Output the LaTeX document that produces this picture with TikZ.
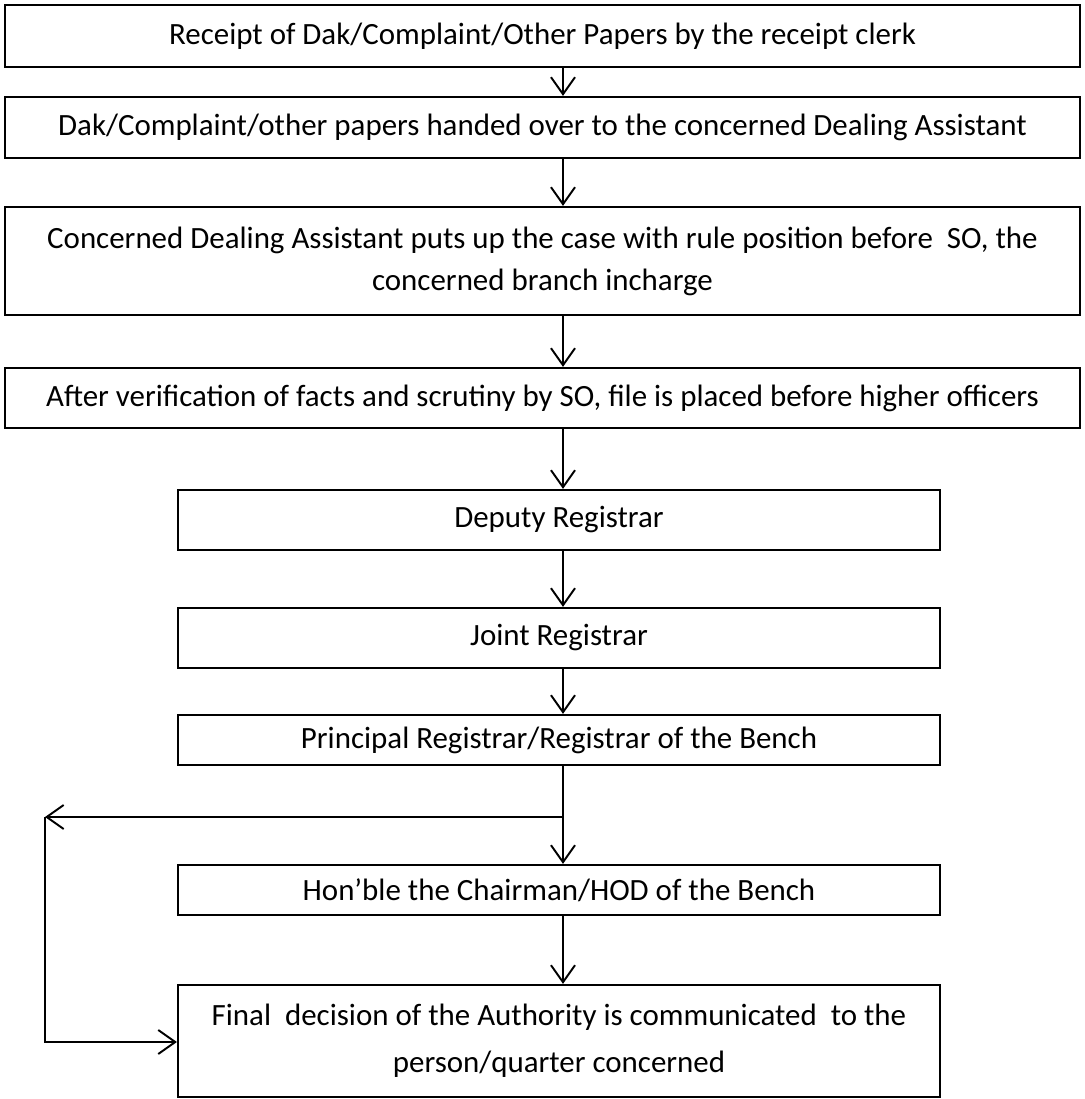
\documentclass[tikz,border=0pt]{standalone}
\usepackage{fontspec}
\setmainfont{Carlito}
\usetikzlibrary{arrows.meta, positioning, calc}

\begin{document}
\begin{tikzpicture}[
    x=0.02cm, y=-0.02cm,
    stage/.style={rectangle, draw, line width=1.3pt, align=center, inner sep=0pt, font=\fontsize{17.6}{24}\selectfont},
    wide/.style={stage, minimum width=21.5cm},
    narrow/.style={stage, minimum width=15.24cm},
    arrow/.style={-{Straight Barb[length=3.4mm, width=4.8mm, line width=1.1pt]}, line width=1.1pt}
]
    \useasboundingbox (0,0) rectangle (1085,1099);

    % Upper stages (full width)
    \node[wide, minimum height=1.24cm] (receipt) at (542.5, 36) {Receipt of Dak/Complaint/Other Papers by the receipt clerk};
    \node[wide, minimum height=1.22cm] (handover) at (542.5, 127.5) {Dak/Complaint/other papers handed over to the concerned Dealing Assistant};
    \node[wide, minimum height=2.16cm] (dealing) at (542.5, 261) {Concerned Dealing Assistant puts up the case with rule position before~ SO, the\\concerned branch incharge};
    \node[wide, minimum height=1.2cm] (scrutiny) at (542.5, 398) {After verification of facts and scrutiny by SO, file is placed before higher officers};

    % Officers (narrower)
    \node[narrow, minimum height=1.2cm] (deputy) at (559, 520) {Deputy Registrar};
    \node[narrow, minimum height=1.2cm] (joint) at (559, 638) {Joint Registrar};
    \node[narrow, minimum height=1.0cm] (principal) at (559, 740) {Principal Registrar/Registrar of the Bench};
    \node[narrow, minimum height=1.0cm] (chairman) at (559, 890) {Hon'ble the Chairman/HOD of the Bench};
    \node[narrow, minimum height=2.24cm, font=\fontsize{17.6}{27}\selectfont] (final) at (559, 1041) {Final~ decision of the Authority is communicated~ to the\\person/quarter concerned};

    % Flow line
    \coordinate (axis) at (563, 0);
    \draw[arrow] (receipt.south -| axis) -- (handover.north -| axis);
    \draw[arrow] (handover.south -| axis) -- (dealing.north -| axis);
    \draw[arrow] (dealing.south -| axis) -- (scrutiny.north -| axis);
    \draw[arrow] (scrutiny.south -| axis) -- (deputy.north -| axis);
    \draw[arrow] (deputy.south -| axis) -- (joint.north -| axis);
    \draw[arrow] (joint.south -| axis) -- (principal.north -| axis);
    \draw[arrow] (principal.south -| axis) -- (chairman.north -| axis);
    \draw[arrow] (chairman.south -| axis) -- (final.north -| axis);

    % Direct route to the final decision
    \coordinate (split) at (563, 817);
    \coordinate (back) at (45, 817);
    \coordinate (corner) at (45, 1042);
    \draw[arrow] (split) -- (back);
    \draw[arrow] (back) -- (corner) -- (final.west |- corner);

\end{tikzpicture}
\end{document}
